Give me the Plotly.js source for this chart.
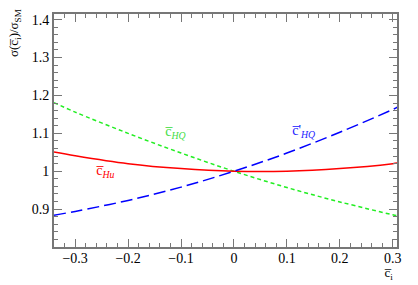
<!DOCTYPE html>
<html>
<head>
<meta charset="utf-8">
<script src="https://cdn.plot.ly/plotly-3.0.1.min.js"></script>
<style>
html, body { margin: 0; padding: 0; background: #fff; }
#plot1 { width: 418px; height: 285px; }
</style>
</head>
<body>
<div id="plot1"></div>
<script>
// Values
var cbar = [-0.34, -0.3, -0.2, -0.1, 0, 0.1, 0.2, 0.3, 0.31];
var cHQ = [1.181, 1.156, 1.100, 1.048, 1.000, 0.957, 0.919, 0.885, 0.882];
var cHu = [1.051, 1.041, 1.020, 1.007, 1.000, 1.000, 1.007, 1.020, 1.022];
var cHQp = [0.884, 0.894, 0.923, 0.958, 1.000, 1.048, 1.103, 1.163, 1.170];

var yTicks = [0.9, 1, 1.1, 1.2, 1.3, 1.4];
var yTickText = ['0.9', '1', '1.1', '1.2', '1.3', '1.4'];
var xTicks = [-0.3, -0.2, -0.1, 0, 0.1, 0.2, 0.3];
var xTickText = ['\u22120.3', '\u22120.2', '\u22120.1', '0', '0.1', '0.2', '0.3'];

var serif = '"Liberation Serif", "Times New Roman", Times, serif';
var frame = '#777777';

function drawPlot1() {
	var traces = [
		{x: cbar, y: cHQ, mode: 'lines', type: 'scatter', line: {color: '#22ee22', width: 1.5, dash: '4px,3px', shape: 'spline'}},
		{x: cbar, y: cHu, mode: 'lines', type: 'scatter', line: {color: '#ff0000', width: 1.5, shape: 'spline'}},
		{x: cbar, y: cHQp, mode: 'lines', type: 'scatter', line: {color: '#0000ff', width: 1.5, dash: '12px,5px', shape: 'spline'}}
	];
	var axisCommon = {
		showgrid: false, zeroline: false, showline: true, linecolor: frame, linewidth: 2,
		mirror: 'allticks', ticks: 'inside', ticklen: 8, tickwidth: 1, tickcolor: frame,
		tickfont: {family: serif, size: 14, color: '#000'}
	};
	var layout = {
		width: 418, height: 285,
		margin: {l: 54, r: 21, t: 14, b: 38},
		paper_bgcolor: '#fff', plot_bgcolor: '#fff',
		font: {family: serif},
		showlegend: false,
		xaxis: Object.assign({}, axisCommon, {
			range: [-0.34, 0.308], tickmode: 'array', tickvals: xTicks, ticktext: xTickText,
			ticklabelstandoff: -3,
			minor: {dtick: 0.02, ticks: 'inside', ticklen: 4, tickcolor: frame}
		}),
		yaxis: Object.assign({}, axisCommon, {
			range: [0.8, 1.415], tickmode: 'array', tickvals: yTicks, ticktext: yTickText,
			minor: {dtick: 0.02, ticks: 'inside', ticklen: 4, tickcolor: frame}
		}),
		annotations: [
			{text: 'c\u0305<sub><i>HQ</i></sub>', x: -0.111, y: 1.101, xref: 'x', yref: 'y', showarrow: false,
				font: {family: serif, size: 14, color: '#44dd44'}},
			{text: 'c\u0305<sub><i>Hu</i></sub>', x: -0.243, y: 1.0, xref: 'x', yref: 'y', showarrow: false,
				font: {family: serif, size: 14, color: '#ff0000'}},
			{text: 'c\u0305\'<sub><i>HQ</i></sub>', x: 0.132, y: 1.104, xref: 'x', yref: 'y', showarrow: false,
				font: {family: serif, size: 14, color: '#2222ff'}},
			{text: 'c\u0305<sub>i</sub>', x: 1, y: 0, xref: 'paper', yref: 'paper', xanchor: 'right', yanchor: 'top',
				yshift: -16, xshift: -2, showarrow: false, font: {family: serif, size: 13, color: '#000'}},
			{text: '\u03c3(c\u0305<sub>i</sub>)/\u03c3<sub>SM</sub>', x: -40 / 343, y: 1.03, xref: 'paper', yref: 'paper',
				xanchor: 'center', yanchor: 'top',
				showarrow: false, textangle: -90, font: {family: serif, size: 13, color: '#000'}}
		]
	};
	Plotly.newPlot('plot1', traces, layout, {staticPlot: true});
}

drawPlot1();
</script>
</body>
</html>
